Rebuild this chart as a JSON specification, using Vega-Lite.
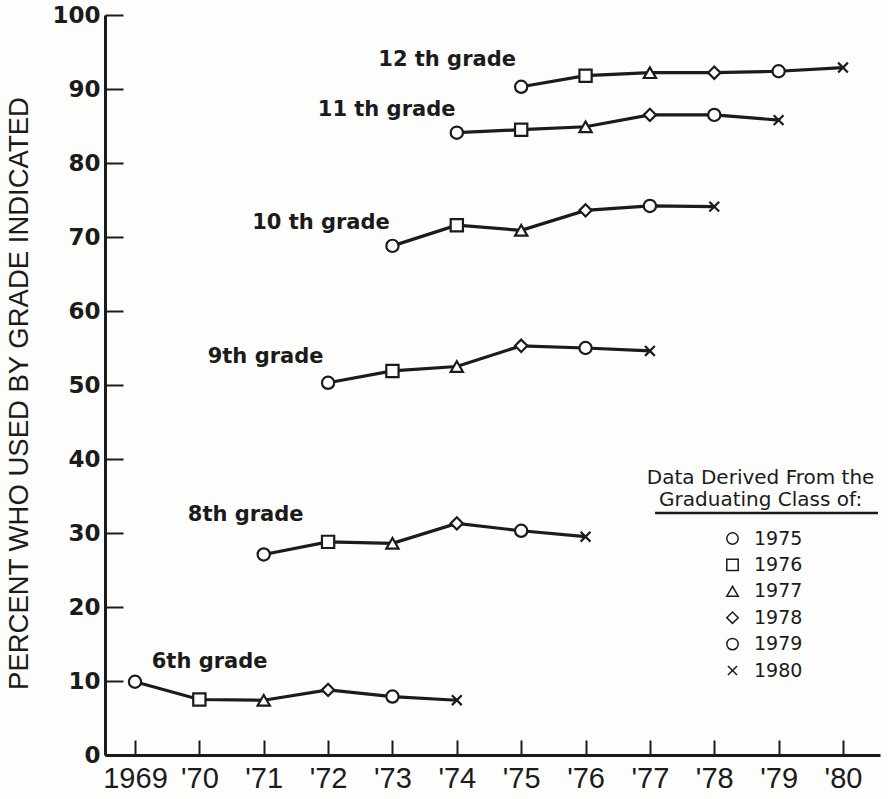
{
  "$schema": "https://vega.github.io/schema/vega-lite/v6.json",
  "width": 775,
  "height": 740,
  "autosize": {"type": "none"},
  "padding": {"left": 105, "top": 15, "right": 8, "bottom": 44},
  "background": "#fdfdfb",
  "config": {"view": {"stroke": null}, "font": "DejaVu Sans"},
  "datasets": {
    "series": [
      {"grade": "6th", "year": 1969, "pct": 9.9, "cls": "1975"},
      {"grade": "6th", "year": 1970, "pct": 7.5, "cls": "1976"},
      {"grade": "6th", "year": 1971, "pct": 7.4, "cls": "1977"},
      {"grade": "6th", "year": 1972, "pct": 8.8, "cls": "1978"},
      {"grade": "6th", "year": 1973, "pct": 7.9, "cls": "1979"},
      {"grade": "6th", "year": 1974, "pct": 7.4, "cls": "1980"},
      {"grade": "8th", "year": 1971, "pct": 27.1, "cls": "1975"},
      {"grade": "8th", "year": 1972, "pct": 28.8, "cls": "1976"},
      {"grade": "8th", "year": 1973, "pct": 28.6, "cls": "1977"},
      {"grade": "8th", "year": 1974, "pct": 31.3, "cls": "1978"},
      {"grade": "8th", "year": 1975, "pct": 30.3, "cls": "1979"},
      {"grade": "8th", "year": 1976, "pct": 29.5, "cls": "1980"},
      {"grade": "9th", "year": 1972, "pct": 50.3, "cls": "1975"},
      {"grade": "9th", "year": 1973, "pct": 51.9, "cls": "1976"},
      {"grade": "9th", "year": 1974, "pct": 52.5, "cls": "1977"},
      {"grade": "9th", "year": 1975, "pct": 55.3, "cls": "1978"},
      {"grade": "9th", "year": 1976, "pct": 55.0, "cls": "1979"},
      {"grade": "9th", "year": 1977, "pct": 54.6, "cls": "1980"},
      {"grade": "10th", "year": 1973, "pct": 68.8, "cls": "1975"},
      {"grade": "10th", "year": 1974, "pct": 71.6, "cls": "1976"},
      {"grade": "10th", "year": 1975, "pct": 70.9, "cls": "1977"},
      {"grade": "10th", "year": 1976, "pct": 73.6, "cls": "1978"},
      {"grade": "10th", "year": 1977, "pct": 74.2, "cls": "1979"},
      {"grade": "10th", "year": 1978, "pct": 74.1, "cls": "1980"},
      {"grade": "11th", "year": 1974, "pct": 84.1, "cls": "1975"},
      {"grade": "11th", "year": 1975, "pct": 84.5, "cls": "1976"},
      {"grade": "11th", "year": 1976, "pct": 84.9, "cls": "1977"},
      {"grade": "11th", "year": 1977, "pct": 86.5, "cls": "1978"},
      {"grade": "11th", "year": 1978, "pct": 86.5, "cls": "1979"},
      {"grade": "11th", "year": 1979, "pct": 85.8, "cls": "1980"},
      {"grade": "12th", "year": 1975, "pct": 90.3, "cls": "1975"},
      {"grade": "12th", "year": 1976, "pct": 91.8, "cls": "1976"},
      {"grade": "12th", "year": 1977, "pct": 92.2, "cls": "1977"},
      {"grade": "12th", "year": 1978, "pct": 92.2, "cls": "1978"},
      {"grade": "12th", "year": 1979, "pct": 92.4, "cls": "1979"},
      {"grade": "12th", "year": 1980, "pct": 92.9, "cls": "1980"}
    ],
    "gradeLabels": [
      {"label": "12 th grade", "year": 1972.78, "pct": 93.9},
      {"label": "11 th grade", "year": 1971.84, "pct": 87.2},
      {"label": "10 th grade", "year": 1970.82, "pct": 71.9},
      {"label": "9th grade", "year": 1970.13, "pct": 53.8},
      {"label": "8th grade", "year": 1969.82, "pct": 32.4},
      {"label": "6th grade", "year": 1969.26, "pct": 12.6}
    ]
  },
  "layer": [
    {
      "data": {"name": "series"},
      "mark": {"type": "line", "stroke": "#1b1b1b", "strokeWidth": 3.2},
      "encoding": {
        "x": {
          "field": "year", "type": "quantitative",
          "scale": {"domain": [1968.534, 1980.575], "nice": false, "zero": false},
          "axis": {
            "title": null, "grid": false,
            "values": [1969, 1970, 1971, 1972, 1973, 1974, 1975, 1976, 1977, 1978, 1979, 1980],
            "labelExpr": "datum.value == 1969 ? '1969' : \"'\" + (datum.value - 1900)",
            "domainColor": "#1b1b1b", "domainWidth": 3,
            "tickColor": "#1b1b1b", "tickWidth": 2, "tickSize": -15,
            "labelFont": "Liberation Sans", "labelFontSize": 29, "labelColor": "#1b1b1b",
            "labelPadding": 24, "labelFlush": false, "labelOverlap": false
          }
        },
        "y": {
          "field": "pct", "type": "quantitative",
          "scale": {"domain": [0, 100], "nice": false},
          "axis": {
            "title": "PERCENT WHO USED BY GRADE INDICATED",
            "titleFont": "Liberation Sans", "titleFontSize": 27.5, "titleFontWeight": "normal",
            "titleColor": "#1b1b1b", "titleX": -86, "titleY": 378, "titleAngle": 270,
            "titleAlign": "center", "titleBaseline": "middle",
            "grid": false,
            "values": [0, 10, 20, 30, 40, 50, 60, 70, 80, 90, 100],
            "domainColor": "#1b1b1b", "domainWidth": 3,
            "tickColor": "#1b1b1b", "tickWidth": 2, "tickSize": -18,
            "labelFont": "DejaVu Sans", "labelFontSize": 23, "labelFontWeight": "bold", "labelColor": "#1b1b1b",
            "labelPadding": 23, "labelFlush": false, "labelOverlap": false
          }
        },
        "detail": {"field": "grade"},
        "order": {"field": "year"}
      }
    },
    {
      "data": {"name": "series"},
      "mark": {"type": "point", "filled": true, "fill": "#fdfdfb", "stroke": "#1b1b1b", "strokeWidth": 2.2, "size": 150, "opacity": 1},
      "encoding": {
        "x": {"field": "year", "type": "quantitative"},
        "y": {"field": "pct", "type": "quantitative"},
        "shape": {
          "field": "cls", "type": "nominal",
          "scale": {
            "domain": ["1975", "1976", "1977", "1978", "1979", "1980"],
            "range": ["circle", "square", "triangle-up", "diamond", "circle", "M-0.8,-0.8L0.8,0.8M-0.8,0.8L0.8,-0.8"]
          },
          "legend": {
            "title": null, "orient": "none", "legendX": 618, "legendY": 514,
            "padding": 0, "rowPadding": 6.4, "labelOffset": 12,
            "symbolSize": 130,
            "labelFont": "DejaVu Sans", "labelFontSize": 19, "labelColor": "#1b1b1b",
            "encode": {
              "symbols": {
                "update": {
                  "fill": {"value": "#fdfdfb"},
                  "stroke": {"value": "#1b1b1b"},
                  "strokeWidth": {"value": 2.2},
                  "opacity": {"value": 1}
                }
              }
            }
          }
        }
      }
    },
    {
      "data": {"name": "gradeLabels"},
      "mark": {"type": "text", "align": "left", "baseline": "middle", "font": "DejaVu Sans", "fontSize": 21, "fontWeight": "bold", "color": "#1b1b1b"},
      "encoding": {
        "x": {"field": "year", "type": "quantitative"},
        "y": {"field": "pct", "type": "quantitative"},
        "text": {"field": "label"}
      }
    },
    {
      "data": {"values": [{}]},
      "mark": {"type": "text", "align": "center", "baseline": "middle", "font": "DejaVu Sans", "fontSize": 20, "color": "#1b1b1b", "text": "Data Derived From the"},
      "encoding": {"x": {"datum": 1978.72}, "y": {"datum": 37.5}}
    },
    {
      "data": {"values": [{}]},
      "mark": {"type": "text", "align": "center", "baseline": "middle", "font": "DejaVu Sans", "fontSize": 20, "color": "#1b1b1b", "text": "Graduating Class of:"},
      "encoding": {"x": {"datum": 1978.72}, "y": {"datum": 34.5}}
    },
    {
      "data": {"values": [{}]},
      "mark": {"type": "rule", "stroke": "#1b1b1b", "strokeWidth": 2.5},
      "encoding": {"x": {"datum": 1977.08}, "x2": {"datum": 1980.545}, "y": {"datum": 32.7}}
    }
  ]
}
